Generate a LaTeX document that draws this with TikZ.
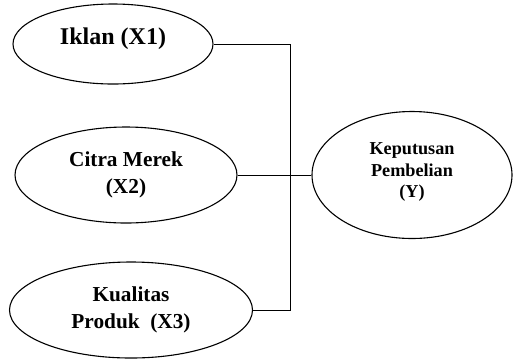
\documentclass[tikz,border=0pt]{standalone}
\usepackage{fontspec}
\setmainfont{Liberation Serif}
\usepackage{tikz}
\usetikzlibrary{shapes.geometric,positioning}

\begin{document}
\begin{tikzpicture}[
        x=1pt, y=-1pt,
        var/.style={draw, ellipse, line width=1.1pt, inner sep=0pt, align=center,
            font=\bfseries\fontsize{21.3}{27}\selectfont},
        txt/.style={inner sep=0pt, align=center, font=\bfseries\fontsize{24}{29}\selectfont},
        link/.style={line width=0.8pt}
    ]
        \useasboundingbox (0,0) rectangle (513,360);
        % Independent variables
        \node[var, minimum width=200, minimum height=80,
            label={[txt, yshift=5]center:Iklan (X1)}] (iklan) at (113,44) {};
        \node[var, minimum width=222, minimum height=96] (citra) at (126,175) {Citra Merek\\(X2)};
        \node[var, minimum width=243, minimum height=96] (kualitas) at (131,310) {Kualitas\\Produk~~(X3)};

        % Dependent variable
        \node[var, minimum width=200, minimum height=127,
            label={[txt, font=\bfseries\fontsize{18.2}{21.5}\selectfont, yshift=3]center:{Keputusan\\Pembelian\\(Y)}}] (keputusan) at (412,175) {};

        % Connectors
        \coordinate (bus) at (290,0);
        \draw[link] (iklan.east) -| (bus |- kualitas.east) -- (kualitas.east);
        \draw[link] (citra.east) -- (keputusan.west);
    \end{tikzpicture}
\end{document}
